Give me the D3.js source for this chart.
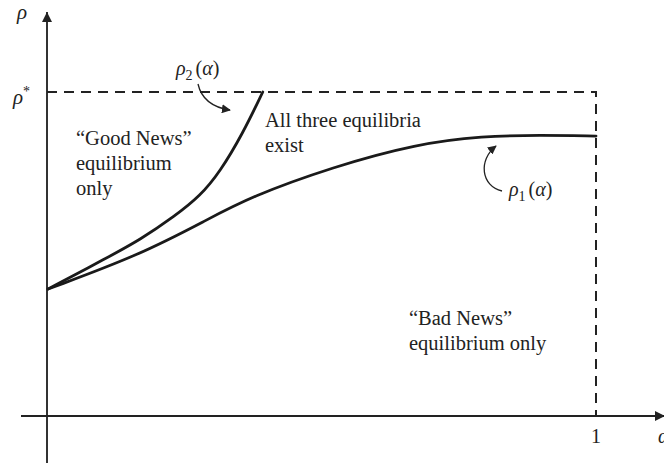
<!DOCTYPE html>
<html>
<head>
<meta charset="utf-8">
<script src="https://cdn.jsdelivr.net/npm/d3@7"></script>
<style>
  body { margin: 0; background: #fff; }
  text { font-family: "Liberation Serif", "DejaVu Serif", serif; fill: #222; }
</style>
</head>
<body>
<svg id="chart"></svg>
<script>
// curve values, alpha in [0,1], rho relative to rho* (=1)
const rho1Alpha = [0.002, 0.169, 0.291, 0.370, 0.521, 0.674, 0.794, 0.898, 1.0];
const rho1Value = [0.392, 0.497, 0.605, 0.676, 0.769, 0.840, 0.864, 0.867, 0.864];
const rho2Alpha = [0.002, 0.109, 0.169, 0.233, 0.279, 0.315, 0.357, 0.393];
const rho2Value = [0.392, 0.488, 0.543, 0.617, 0.679, 0.753, 0.873, 1.0];
const xTicks = ["1"];
const regionLabels = [
  ["\u201cGood News\u201d", "equilibrium", "only"],
  ["All three equilibria", "exist"],
  ["\u201cBad News\u201d", "equilibrium only"]
];

const W = 664, H = 463;
const svg = d3.select("#chart").attr("width", W).attr("height", H);

const x = d3.scaleLinear().domain([0, 1]).range([47, 596]);
const y = d3.scaleLinear().domain([0, 1]).range([416, 92]);

const defs = svg.append("defs");
defs.append("marker")
    .attr("id", "axisHead")
    .attr("viewBox", "0 0 10 10")
    .attr("refX", 10).attr("refY", 5)
    .attr("markerWidth", 10).attr("markerHeight", 10)
    .attr("markerUnits", "userSpaceOnUse")
    .attr("orient", "auto")
    .append("path").attr("d", "M0,0 L10,5 L0,10 Z").attr("fill", "#222");
defs.append("marker")
    .attr("id", "noteHead")
    .attr("viewBox", "0 0 10 10")
    .attr("refX", 9).attr("refY", 5)
    .attr("markerWidth", 9).attr("markerHeight", 9)
    .attr("markerUnits", "userSpaceOnUse")
    .attr("orient", "auto")
    .append("path").attr("d", "M0,0 L10,5 L0,10 Z").attr("fill", "#222");

// axes
svg.append("line")
    .attr("x1", x(0)).attr("x2", x(0))
    .attr("y1", H).attr("y2", 12)
    .attr("stroke", "#333").attr("stroke-width", 2)
    .attr("marker-end", "url(#axisHead)");
svg.append("line")
    .attr("x1", 21).attr("x2", 665)
    .attr("y1", y(0)).attr("y2", y(0))
    .attr("stroke", "#222").attr("stroke-width", 2)
    .attr("marker-end", "url(#axisHead)");

// dashed box at rho* and alpha = 1
svg.append("path")
    .attr("d", `M${x(0)},${y(1)} H${x(1)} V${y(0)}`)
    .attr("fill", "none")
    .attr("stroke", "#222").attr("stroke-width", 2)
    .attr("stroke-dasharray", "10,7");

// curves
const line = d3.line().curve(d3.curveBasis);
const rho1 = rho1Alpha.map((a, i) => [x(a), y(rho1Value[i])]);
const rho2 = rho2Alpha.map((a, i) => [x(a), y(rho2Value[i])]);
[rho1, rho2].forEach(pts => {
  svg.append("path")
      .attr("d", line(pts))
      .attr("fill", "none")
      .attr("stroke", "#1a1a1a")
      .attr("stroke-width", 2.8)
      .attr("stroke-linecap", "round");
});

// axis labels
svg.append("text").attr("x", 17).attr("y", 19)
    .attr("font-size", 21).attr("font-style", "italic").text("\u03c1");
const rs = svg.append("text").attr("x", 13).attr("y", y(1) + 12)
    .attr("font-size", 21).attr("font-style", "italic");
rs.append("tspan").text("\u03c1");
rs.append("tspan").attr("dy", -8).attr("font-size", 14).attr("font-style", "normal").text("*");
xTicks.forEach(t => {
  svg.append("text").attr("x", x(+t)).attr("y", 443)
      .attr("text-anchor", "middle").attr("font-size", 20).text(t);
});
svg.append("text").attr("x", 658).attr("y", 443)
    .attr("font-size", 20).attr("font-style", "italic").text("\u03b1");

// region labels
const labelPos = [[76, 145], [265, 127], [409, 325]];
regionLabels.forEach((lines, i) => {
  const t = svg.append("text").attr("font-size", 20.5);
  lines.forEach((s, j) => {
    t.append("tspan").attr("x", labelPos[i][0]).attr("y", labelPos[i][1] + j * 25).text(s);
  });
});

// curve name labels
function curveLabel(px, py, sub) {
  const t = svg.append("text").attr("x", px).attr("y", py).attr("font-size", 20);
  t.append("tspan").attr("font-style", "italic").text("\u03c1");
  t.append("tspan").attr("dy", 5).attr("font-size", 14).text(sub);
  t.append("tspan").attr("dy", -5).attr("dx", 3).text("(");
  t.append("tspan").attr("font-style", "italic").text("\u03b1");
  t.append("tspan").text(")");
}
curveLabel(176, 75, "2");
curveLabel(509, 196, "1");

// pointer arrows
svg.append("path")
    .attr("d", "M198,84 Q203,106 230,110")
    .attr("fill", "none").attr("stroke", "#222").attr("stroke-width", 1.3)
    .attr("marker-end", "url(#noteHead)");
svg.append("path")
    .attr("d", "M502,191 C481,186 478,160 496,146")
    .attr("fill", "none").attr("stroke", "#222").attr("stroke-width", 1.3)
    .attr("marker-end", "url(#noteHead)");
</script>
</body>
</html>
